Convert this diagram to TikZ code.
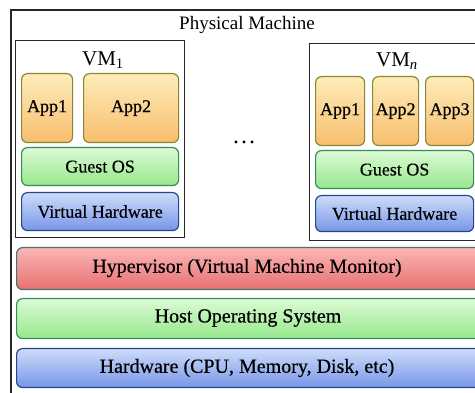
\documentclass[tikz,border=0pt]{standalone}
\usepackage{fontspec}
\setmainfont{Liberation Serif}
\newfontfamily\heavyfont{Liberation Serif}[FakeBold=0.5]
\begin{document}
\begin{tikzpicture}[x=1pt,y=-1pt,
  layer/.style={draw, line width=1.2pt, rounded corners=6pt, inner sep=0pt, anchor=north west},
  appbox/.style={layer, draw={rgb,255:red,140;green,135;blue,50}, top color={rgb,255:red,253;green,236;blue,185}, bottom color={rgb,255:red,248;green,190;blue,110}},
  greenbox/.style={layer, draw={rgb,255:red,55;green,140;blue,90}, top color={rgb,255:red,220;green,250;blue,212}, bottom color={rgb,255:red,150;green,232;blue,140}},
  bluebox/.style={layer, draw={rgb,255:red,40;green,70;blue,140}, top color={rgb,255:red,205;green,220;blue,250}, bottom color={rgb,255:red,120;green,150;blue,232}},
  redbox/.style={layer, draw={rgb,255:red,70;green,115;blue,115}, top color={rgb,255:red,250;green,182;blue,182}, bottom color={rgb,255:red,232;green,112;blue,112}},
  vmbox/.style={draw=black!85, line width=1.3pt, inner sep=0pt, anchor=north west, fill=white},
  lbl/.style={font=\heavyfont\fontsize{18}{18}\selectfont, text=black},
  bar/.style={font=\heavyfont\fontsize{20}{20}\selectfont, text=black},
  vmlbl/.style={font=\fontsize{21}{21}\selectfont, text=black}
]
\useasboundingbox (0,0) rectangle (475,393);
\clip (0,0) rectangle (475,393);
\fill[white] (0,0) rectangle (475,393);
% outer frame
\coordinate (fbl) at (11,400);
\coordinate (ftl) at (11,10);
\coordinate (ftr) at (490,10);
\draw[line width=2pt, black!85] (fbl) -- (ftl) -- (ftr);
\node[font=\fontsize{19}{19}\selectfont] (pm) at (247,25) {Physical Machine};

% VM1
\node[vmbox, minimum width=169pt, minimum height=197pt] (vm1) at (15,40) {};
\node[vmlbl] (vm1l) at (103,60) {VM\textsubscript{1}};
\node[appbox, minimum width=51pt, minimum height=69pt] (a11) at (21,73) {};
\node[lbl] at (a11) {App1};
\node[appbox, minimum width=95pt, minimum height=69pt] (a12) at (83,73) {};
\node[lbl] at (a12) {App2};
\node[greenbox, minimum width=157pt, minimum height=38pt] (g1) at (21,147) {};
\node[lbl] at (g1) {Guest OS};
\node[bluebox, minimum width=157pt, minimum height=38pt] (v1) at (21,192) {};
\node[lbl] at (v1) {Virtual Hardware};

% dots
\node[font=\fontsize{24}{24}\selectfont] (dots) at (244,142) {\dots};

% VMn
\node[vmbox, minimum width=180pt, minimum height=197pt] (vmn) at (309,43) {};
\node[vmlbl] (vmnl) at (397,61) {VM\textsubscript{\textit{n}}};
\node[appbox, minimum width=49pt, minimum height=69pt] (an1) at (315,76) {};
\node[lbl] at (an1) {App1};
\node[appbox, minimum width=46pt, minimum height=69pt] (an2) at (372,76) {};
\node[lbl] at (an2) {App2};
\node[appbox, minimum width=48pt, minimum height=69pt] (an3) at (425,76) {};
\node[lbl] at (an3) {App3};
\node[greenbox, minimum width=158pt, minimum height=38pt] (gn) at (315,150) {};
\node[lbl] at (gn) {Guest OS};
\node[bluebox, minimum width=158pt, minimum height=36pt] (vn) at (315,195) {};
\node[lbl] at (vn) {Virtual Hardware};

% layers
\node[redbox, minimum width=480pt, minimum height=42pt] (hyp) at (16,247) {};
\node[bar] at (247,268) {Hypervisor (Virtual Machine Monitor)};
\node[greenbox, minimum width=480pt, minimum height=40pt] (host) at (16,298) {};
\node[bar] at (248,318) {Host Operating System};
\node[bluebox, minimum width=480pt, minimum height=39pt] (hw) at (16,348) {};
\node[bar] at (247,368) {Hardware (CPU, Memory, Disk, etc)};
\end{tikzpicture}
\end{document}
